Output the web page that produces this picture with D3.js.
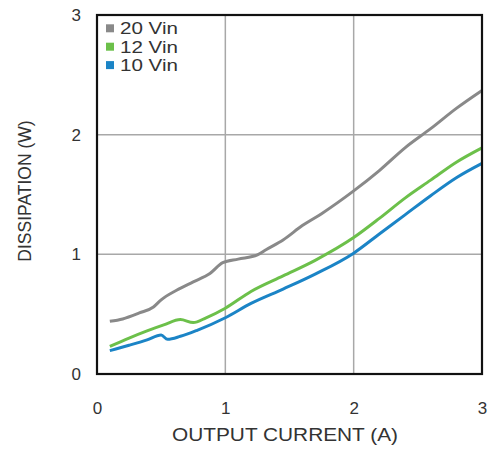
<!DOCTYPE html>
<html>
<head>
<meta charset="utf-8">
<script src="https://cdn.jsdelivr.net/npm/d3@7"></script>
<style>
  html, body { margin: 0; padding: 0; background: #fff; }
  svg { display: block; font-family: "Liberation Sans", Arial, sans-serif; }
</style>
</head>
<body>
<svg id="chart" width="493" height="450"></svg>
<script>
const xTicks = [0, 1, 2, 3];
const yTicks = [0, 1, 2, 3];
const seriesNames = ["20 Vin", "12 Vin", "10 Vin"];
const seriesColors = ["#898989", "#6cc04a", "#1b84c6"];

const x20 = [0.1, 0.2, 0.33, 0.44, 0.5, 0.62, 0.75, 0.88, 0.98, 1.1, 1.25, 1.32, 1.45, 1.6, 1.75, 2.0, 2.2, 2.4, 2.6, 2.8, 3.0];
const y20 = [0.44, 0.46, 0.51, 0.56, 0.62, 0.70, 0.77, 0.84, 0.93, 0.96, 0.995, 1.04, 1.12, 1.24, 1.34, 1.53, 1.70, 1.89, 2.05, 2.22, 2.37];

const x12 = [0.1, 0.25, 0.39, 0.52, 0.65, 0.75, 0.85, 1.0, 1.2, 1.45, 1.7, 2.0, 2.2, 2.4, 2.6, 2.8, 3.0];
const y12 = [0.23, 0.30, 0.36, 0.41, 0.455, 0.43, 0.47, 0.55, 0.69, 0.82, 0.95, 1.14, 1.30, 1.47, 1.62, 1.77, 1.89];

const x10 = [0.1, 0.25, 0.39, 0.5, 0.55, 0.65, 0.78, 1.0, 1.2, 1.45, 1.7, 2.0, 2.2, 2.4, 2.6, 2.8, 3.0];
const y10 = [0.195, 0.24, 0.285, 0.325, 0.29, 0.315, 0.365, 0.47, 0.59, 0.71, 0.835, 1.01, 1.17, 1.33, 1.49, 1.64, 1.76];

const seriesX = [x20, x12, x10];
const seriesY = [y20, y12, y10];

const svg = d3.select("#chart");
const pL = 97, pR = 482, pT = 15, pB = 374;

const x = d3.scaleLinear().domain([0, 3]).range([pL, pR]);
const y = d3.scaleLinear().domain([0, 3]).range([pB, pT]);

// gridlines
svg.append("g").selectAll("line").data(xTicks.slice(1, -1)).join("line")
  .attr("x1", d => x(d)).attr("x2", d => x(d))
  .attr("y1", pT).attr("y2", pB)
  .attr("stroke", "#a8a8a8").attr("stroke-width", 1.5);
svg.append("g").selectAll("line").data(yTicks.slice(1, -1)).join("line")
  .attr("x1", pL).attr("x2", pR)
  .attr("y1", d => y(d)).attr("y2", d => y(d))
  .attr("stroke", "#a8a8a8").attr("stroke-width", 1.5);

// axes (labels only)
const xAxis = svg.append("g").attr("transform", `translate(0,${pB})`)
  .call(d3.axisBottom(x).tickValues(xTicks).tickFormat(d3.format("d")).tickSize(0).tickPadding(28));
const yAxis = svg.append("g").attr("transform", `translate(${pL},0)`)
  .call(d3.axisLeft(y).tickValues(yTicks).tickFormat(d3.format("d")).tickSize(0).tickPadding(16));
[xAxis, yAxis].forEach(g => {
  g.select(".domain").remove();
  g.selectAll("text").attr("font-size", 17).attr("fill", "#333")
    .attr("font-family", "Liberation Sans, Arial, sans-serif");
});

// lines
const line = d3.line().x(d => x(d[0])).y(d => y(d[1])).curve(d3.curveMonotoneX);
seriesNames.forEach((name, i) => {
  const pts = seriesX[i].map((v, j) => [v, seriesY[i][j]]);
  svg.append("path").datum(pts)
    .attr("d", line)
    .attr("fill", "none")
    .attr("stroke", seriesColors[i])
    .attr("stroke-width", 3)
    .attr("stroke-linejoin", "round");
});

// frame
svg.append("rect")
  .attr("x", pL).attr("y", pT)
  .attr("width", pR - pL).attr("height", pB - pT)
  .attr("fill", "none").attr("stroke", "#111").attr("stroke-width", 2.2);

// legend
const lg = svg.append("g");
seriesNames.forEach((name, i) => {
  const yy = 28.3 + i * 18.4;
  lg.append("rect").attr("x", 106).attr("y", yy - 4).attr("width", 8).attr("height", 8)
    .attr("fill", seriesColors[i]);
  lg.append("text").attr("x", 120).attr("y", yy).attr("dy", "0.36em")
    .attr("font-size", 16.5).attr("fill", "#333")
    .attr("textLength", 58).attr("lengthAdjust", "spacingAndGlyphs")
    .text(name);
});

// axis titles
svg.append("text").attr("x", 172).attr("y", 441)
  .attr("font-size", 18).attr("fill", "#333")
  .attr("textLength", 226).attr("lengthAdjust", "spacingAndGlyphs")
  .text("OUTPUT CURRENT (A)");
svg.append("text")
  .attr("transform", `translate(31,191) rotate(-90)`)
  .attr("text-anchor", "middle").attr("font-size", 17.5).attr("fill", "#333")
  .text("DISSIPATION (W)");
</script>
</body>
</html>
